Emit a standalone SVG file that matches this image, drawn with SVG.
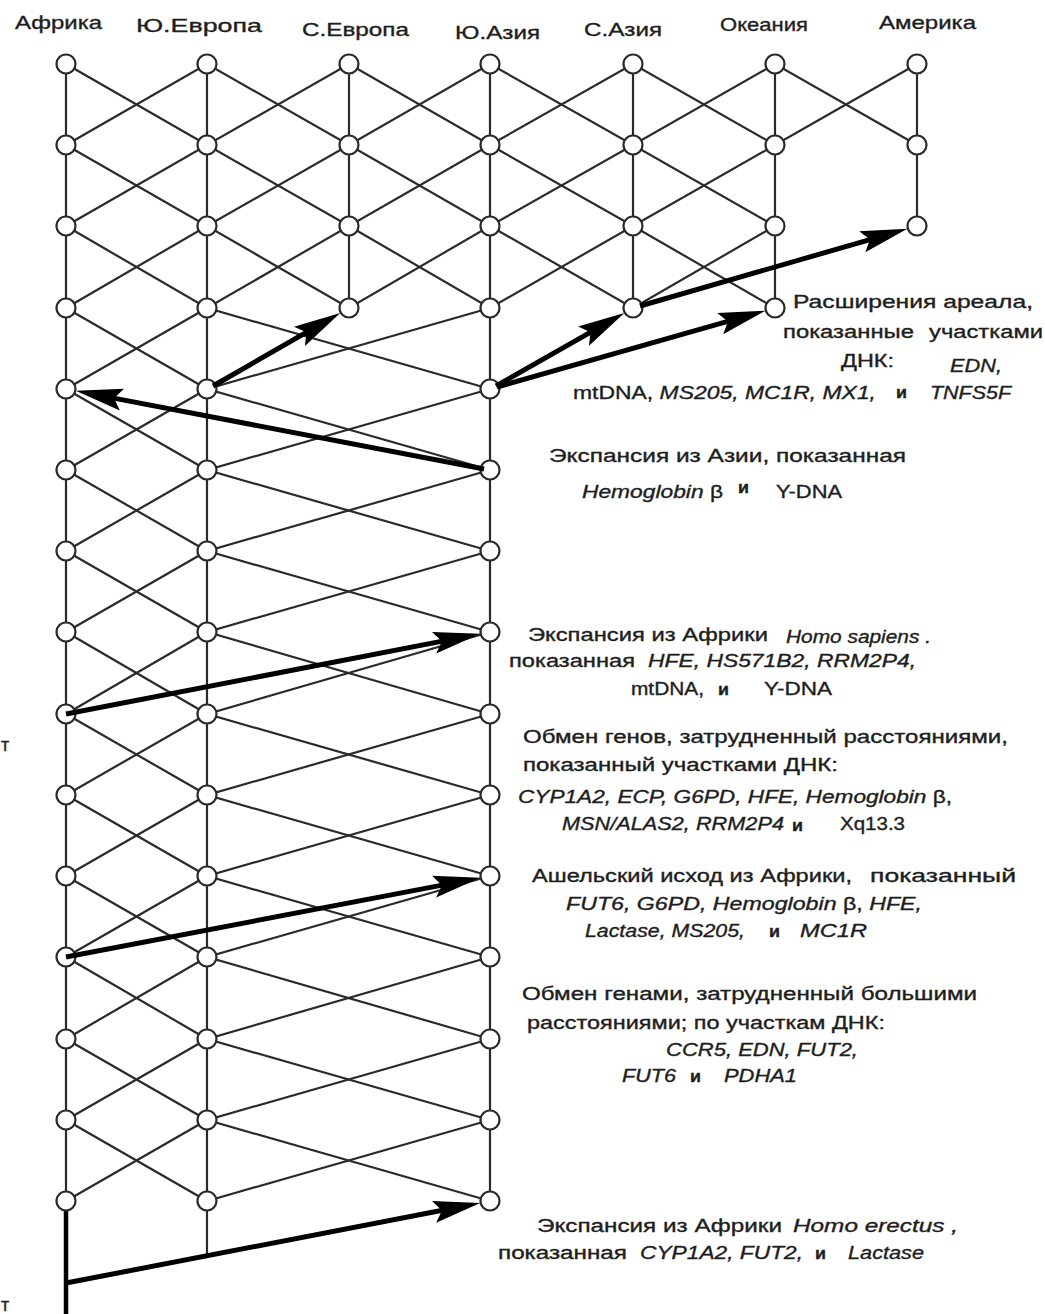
<svg xmlns="http://www.w3.org/2000/svg" width="1045" height="1314" viewBox="0 0 1045 1314">
<style>
.e{stroke:#2a2a2a;stroke-width:2.2;fill:none}
.n{fill:#fff;stroke:#2a2a2a;stroke-width:2.2}
.a{stroke:#000;stroke-width:5;fill:none;marker-end:url(#ah)}
.tk{stroke:#000;stroke-width:4.5;fill:none}
text{font-family:"Liberation Sans",Arial,sans-serif;font-size:18px;fill:#1e1e1e;stroke:#1e1e1e;stroke-width:0.35}
.h{font-size:19px}
.i{font-style:italic}
.u{font-weight:bold;font-size:17px}
</style>
<defs>
<marker id="ah" markerUnits="userSpaceOnUse" markerWidth="80" markerHeight="40" refX="0" refY="0" orient="auto" overflow="visible">
<path d="M20,0 L-27,-11 L-19,0 L-27,11 Z" fill="#000"/>
</marker>
</defs>
<rect width="1045" height="1314" fill="#fff"/>

<g id="labels">
<text class="h" x="15" y="29" textLength="87" lengthAdjust="spacingAndGlyphs">Африка</text>
<text class="h" x="136" y="32" textLength="126" lengthAdjust="spacingAndGlyphs">Ю.Европа</text>
<text class="h" x="302" y="36" textLength="107" lengthAdjust="spacingAndGlyphs">С.Европа</text>
<text class="h" x="455" y="39" textLength="85" lengthAdjust="spacingAndGlyphs">Ю.Азия</text>
<text class="h" x="584" y="36" textLength="78" lengthAdjust="spacingAndGlyphs">С.Азия</text>
<text class="h" x="720" y="31" textLength="88" lengthAdjust="spacingAndGlyphs">Океания</text>
<text class="h" x="879" y="29" textLength="97" lengthAdjust="spacingAndGlyphs">Америка</text>
</g>

<g id="connectors">
<line class="e" x1="66" y1="64" x2="66" y2="1201"/>
<line class="e" x1="207" y1="64" x2="207" y2="1256"/>
<line class="e" x1="349" y1="64" x2="349" y2="308"/>
<line class="e" x1="490" y1="64" x2="490" y2="1201"/>
<line class="e" x1="633" y1="64" x2="633" y2="308"/>
<line class="e" x1="775" y1="64" x2="775" y2="308"/>
<line class="e" x1="917" y1="64" x2="917" y2="226"/>
<polyline class="e" points="66,64 207,145 349,64 490,145 633,64 775,145 917,64"/>
<polyline class="e" points="66,145 207,64 349,145 490,64 633,145 775,64 917,145"/>
<polyline class="e" points="66,145 207,226 349,145 490,226 633,145 775,226"/>
<polyline class="e" points="66,226 207,145 349,226 490,145 633,226 775,145"/>
<polyline class="e" points="66,226 207,308 349,226 490,308 633,226 775,308"/>
<polyline class="e" points="66,308 207,226 349,308 490,226 633,308 775,226"/>
<polyline class="e" points="66,308 207,389 490,308"/>
<polyline class="e" points="66,389 207,308 490,389"/>
<polyline class="e" points="66,389 207,470 490,389"/>
<polyline class="e" points="66,470 207,389 490,470"/>
<polyline class="e" points="66,470 207,551 490,470"/>
<polyline class="e" points="66,551 207,470 490,551"/>
<polyline class="e" points="66,551 207,632 490,551"/>
<polyline class="e" points="66,632 207,551 490,632"/>
<polyline class="e" points="66,632 207,714 490,632"/>
<polyline class="e" points="66,714 207,632 490,714"/>
<polyline class="e" points="66,714 207,795 490,714"/>
<polyline class="e" points="66,795 207,714 490,795"/>
<polyline class="e" points="66,795 207,876 490,795"/>
<polyline class="e" points="66,876 207,795 490,876"/>
<polyline class="e" points="66,876 207,957 490,876"/>
<polyline class="e" points="66,957 207,876 490,957"/>
<polyline class="e" points="66,957 207,1039 490,957"/>
<polyline class="e" points="66,1039 207,957 490,1039"/>
<polyline class="e" points="66,1039 207,1120 490,1039"/>
<polyline class="e" points="66,1120 207,1039 490,1120"/>
<polyline class="e" points="66,1120 207,1201 490,1120"/>
<polyline class="e" points="66,1201 207,1120 490,1201"/>
<line class="tk" x1="66" y1="1209" x2="66" y2="1314"/>
</g>

<g id="nodes">
<g id="r0"><circle class="n" cx="66" cy="64" r="9.5"/><circle class="n" cx="207" cy="64" r="9.5"/><circle class="n" cx="349" cy="64" r="9.5"/><circle class="n" cx="490" cy="64" r="9.5"/><circle class="n" cx="633" cy="64" r="9.5"/><circle class="n" cx="775" cy="64" r="9.5"/><circle class="n" cx="917" cy="64" r="9.5"/></g>
<g id="r1"><circle class="n" cx="66" cy="145" r="9.5"/><circle class="n" cx="207" cy="145" r="9.5"/><circle class="n" cx="349" cy="145" r="9.5"/><circle class="n" cx="490" cy="145" r="9.5"/><circle class="n" cx="633" cy="145" r="9.5"/><circle class="n" cx="775" cy="145" r="9.5"/><circle class="n" cx="917" cy="145" r="9.5"/></g>
<g id="r2"><circle class="n" cx="66" cy="226" r="9.5"/><circle class="n" cx="207" cy="226" r="9.5"/><circle class="n" cx="349" cy="226" r="9.5"/><circle class="n" cx="490" cy="226" r="9.5"/><circle class="n" cx="633" cy="226" r="9.5"/><circle class="n" cx="775" cy="226" r="9.5"/><circle class="n" cx="917" cy="226" r="9.5"/></g>
<g id="r3"><circle class="n" cx="66" cy="308" r="9.5"/><circle class="n" cx="207" cy="308" r="9.5"/><circle class="n" cx="349" cy="308" r="9.5"/><circle class="n" cx="490" cy="308" r="9.5"/><circle class="n" cx="633" cy="308" r="9.5"/><circle class="n" cx="775" cy="308" r="9.5"/></g>
<g id="r4"><circle class="n" cx="66" cy="389" r="9.5"/><circle class="n" cx="207" cy="389" r="9.5"/><circle class="n" cx="490" cy="389" r="9.5"/></g>
<g id="r5"><circle class="n" cx="66" cy="470" r="9.5"/><circle class="n" cx="207" cy="470" r="9.5"/><circle class="n" cx="490" cy="470" r="9.5"/></g>
<g id="r6"><circle class="n" cx="66" cy="551" r="9.5"/><circle class="n" cx="207" cy="551" r="9.5"/><circle class="n" cx="490" cy="551" r="9.5"/></g>
<g id="r7"><circle class="n" cx="66" cy="632" r="9.5"/><circle class="n" cx="207" cy="632" r="9.5"/><circle class="n" cx="490" cy="632" r="9.5"/></g>
<g id="r8"><circle class="n" cx="66" cy="714" r="9.5"/><circle class="n" cx="207" cy="714" r="9.5"/><circle class="n" cx="490" cy="714" r="9.5"/></g>
<g id="r9"><circle class="n" cx="66" cy="795" r="9.5"/><circle class="n" cx="207" cy="795" r="9.5"/><circle class="n" cx="490" cy="795" r="9.5"/></g>
<g id="r10"><circle class="n" cx="66" cy="876" r="9.5"/><circle class="n" cx="207" cy="876" r="9.5"/><circle class="n" cx="490" cy="876" r="9.5"/></g>
<g id="r11"><circle class="n" cx="66" cy="957" r="9.5"/><circle class="n" cx="207" cy="957" r="9.5"/><circle class="n" cx="490" cy="957" r="9.5"/></g>
<g id="r12"><circle class="n" cx="66" cy="1039" r="9.5"/><circle class="n" cx="207" cy="1039" r="9.5"/><circle class="n" cx="490" cy="1039" r="9.5"/></g>
<g id="r13"><circle class="n" cx="66" cy="1120" r="9.5"/><circle class="n" cx="207" cy="1120" r="9.5"/><circle class="n" cx="490" cy="1120" r="9.5"/></g>
<g id="r14"><circle class="n" cx="66" cy="1201" r="9.5"/><circle class="n" cx="207" cy="1201" r="9.5"/><circle class="n" cx="490" cy="1201" r="9.5"/></g>
</g>

<g id="arrows">
<line class="a" x1="496" y1="386" x2="607" y2="322.8"/>
<line class="a" x1="640" y1="306" x2="888.2" y2="234.3"/>
<line class="a" x1="497" y1="387" x2="746.2" y2="316.2"/>
<line class="a" x1="213" y1="386" x2="322.9" y2="322.9"/>
<line class="a" x1="484" y1="469" x2="95.4" y2="394.6"/>
<line class="a" x1="66" y1="714" x2="460.6" y2="637.6"/>
<line class="a" x1="66" y1="957" x2="460.6" y2="881.6"/>
<line class="a" x1="66" y1="1283" x2="460.6" y2="1206.8"/>
</g>

<g id="notes">
<text x="793" y="308" textLength="240" lengthAdjust="spacingAndGlyphs">Расширения ареала,</text>
<text x="783" y="338" textLength="131" lengthAdjust="spacingAndGlyphs">показанные</text>
<text x="929" y="338" textLength="114" lengthAdjust="spacingAndGlyphs">участками</text>
<text x="841" y="367" textLength="53" lengthAdjust="spacingAndGlyphs">ДНК:</text>
<text class="i" x="950" y="372" textLength="52" lengthAdjust="spacingAndGlyphs">EDN,</text>
<text x="573" y="399" textLength="303" lengthAdjust="spacingAndGlyphs">mtDNA, <tspan class="i">MS205, MC1R, MX1,</tspan></text>
<text class="u" x="896" y="398" textLength="11" lengthAdjust="spacingAndGlyphs">и</text>
<text class="i" x="930" y="399" textLength="81" lengthAdjust="spacingAndGlyphs">TNFS5F</text>

<text x="549" y="462" textLength="357" lengthAdjust="spacingAndGlyphs">Экспансия из Азии, показанная</text>
<text x="582" y="498" textLength="141" lengthAdjust="spacingAndGlyphs"><tspan class="i">Hemoglobin</tspan> β</text>
<text class="u" x="738" y="493" textLength="11" lengthAdjust="spacingAndGlyphs">и</text>
<text x="776" y="498" textLength="66" lengthAdjust="spacingAndGlyphs">Y-DNA</text>

<text x="528" y="641" textLength="240" lengthAdjust="spacingAndGlyphs">Экспансия из Африки</text>
<text class="i" x="786" y="643" textLength="145" lengthAdjust="spacingAndGlyphs">Homo sapiens .</text>
<text x="509" y="667" textLength="126" lengthAdjust="spacingAndGlyphs">показанная</text>
<text class="i" x="648" y="667" textLength="268" lengthAdjust="spacingAndGlyphs">HFE, HS571B2, RRM2P4,</text>
<text x="631" y="695" textLength="73" lengthAdjust="spacingAndGlyphs">mtDNA,</text>
<text class="u" x="718" y="695" textLength="11" lengthAdjust="spacingAndGlyphs">и</text>
<text x="764" y="695" textLength="68" lengthAdjust="spacingAndGlyphs">Y-DNA</text>

<text x="523" y="743" textLength="485" lengthAdjust="spacingAndGlyphs">Обмен генов, затрудненный расстояниями,</text>
<text x="523" y="771" textLength="315" lengthAdjust="spacingAndGlyphs">показанный участками ДНК:</text>
<text x="518" y="803" textLength="434" lengthAdjust="spacingAndGlyphs"><tspan class="i">CYP1A2, ECP, G6PD, HFE, Hemoglobin</tspan> β,</text>
<text class="i" x="562" y="830" textLength="222" lengthAdjust="spacingAndGlyphs">MSN/ALAS2, RRM2P4</text>
<text class="u" x="792" y="831" textLength="11" lengthAdjust="spacingAndGlyphs">и</text>
<text x="840" y="830" textLength="65" lengthAdjust="spacingAndGlyphs">Xq13.3</text>

<text x="532" y="882" textLength="320" lengthAdjust="spacingAndGlyphs">Ашельский исход из Африки,</text>
<text x="870" y="882" textLength="146" lengthAdjust="spacingAndGlyphs">показанный</text>
<text x="566" y="910" textLength="356" lengthAdjust="spacingAndGlyphs"><tspan class="i">FUT6,  G6PD,  Hemoglobin</tspan> β, <tspan class="i">HFE,</tspan></text>
<text class="i" x="585" y="937" textLength="160" lengthAdjust="spacingAndGlyphs">Lactase, MS205,</text>
<text class="u" x="769" y="937" textLength="11" lengthAdjust="spacingAndGlyphs">и</text>
<text class="i" x="800" y="937" textLength="67" lengthAdjust="spacingAndGlyphs">MC1R</text>

<text x="522" y="1000" textLength="455" lengthAdjust="spacingAndGlyphs">Обмен генами, затрудненный большими</text>
<text x="527" y="1029" textLength="358" lengthAdjust="spacingAndGlyphs">расстояниями; по участкам ДНК:</text>
<text class="i" x="666" y="1056" textLength="192" lengthAdjust="spacingAndGlyphs">CCR5, EDN, FUT2,</text>
<text class="i" x="622" y="1082" textLength="54" lengthAdjust="spacingAndGlyphs">FUT6</text>
<text class="u" x="690" y="1082" textLength="11" lengthAdjust="spacingAndGlyphs">и</text>
<text class="i" x="724" y="1082" textLength="73" lengthAdjust="spacingAndGlyphs">PDHA1</text>

<text x="537" y="1232" textLength="245" lengthAdjust="spacingAndGlyphs">Экспансия из Африки</text>
<text class="i" x="793" y="1232" textLength="165" lengthAdjust="spacingAndGlyphs">Homo erectus ,</text>
<text x="498" y="1259" textLength="129" lengthAdjust="spacingAndGlyphs">показанная</text>
<text class="i" x="640" y="1259" textLength="163" lengthAdjust="spacingAndGlyphs">CYP1A2, FUT2,</text>
<text class="u" x="815" y="1259" textLength="11" lengthAdjust="spacingAndGlyphs">и</text>
<text class="i" x="848" y="1259" textLength="76" lengthAdjust="spacingAndGlyphs">Lactase</text>

<text x="1" y="751" font-size="15">т</text>
<text x="1" y="1311" font-size="15">т</text>
</g>
</svg>
